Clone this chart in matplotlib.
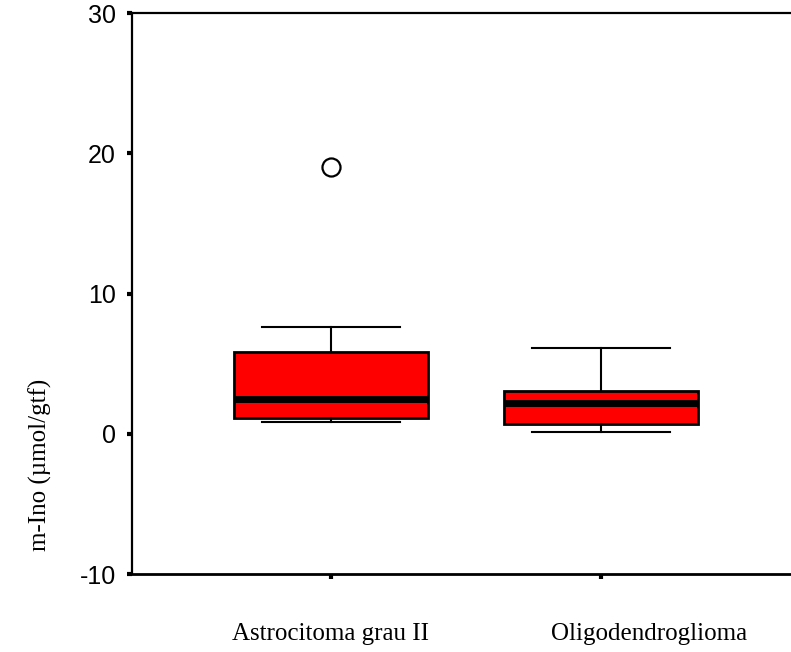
import matplotlib.pyplot as plt

# box summary per group (m-Ino, umol/gtf)
groups = ["Astrocitoma grau II", "Oligodendroglioma"]
whislo = [0.83, 0.12]
q1 = [1.09, 0.69]
med = [2.49, 2.23]
q3 = [5.86, 3.06]
whishi = [7.64, 6.15]
fliers = [[19.04], []]

yticks = [-10, 0, 10, 20, 30]

stats = []
for i, name in enumerate(groups):
    stats.append(dict(label=name, whislo=whislo[i], q1=q1[i], med=med[i],
                      q3=q3[i], whishi=whishi[i], fliers=fliers[i]))

fig = plt.figure(figsize=(7.91, 6.52), dpi=100)
ax = fig.add_axes([0.1669, 0.1196, 0.8331, 0.8604])

ax.bxp(stats, positions=[1, 2], widths=0.72, patch_artist=True,
       boxprops=dict(facecolor="#ff0000", edgecolor="black", linewidth=2),
       medianprops=dict(color="black", linewidth=5, solid_capstyle="butt"),
       whiskerprops=dict(color="black", linewidth=1.5),
       capprops=dict(color="black", linewidth=1.5),
       capwidths=0.51,
       flierprops=dict(marker="o", markersize=13, markerfacecolor="none",
                       markeredgecolor="black", markeredgewidth=1.6))

ax.set_xlim(0.263, 2.704)
ax.set_ylim(-10, 30)
ax.set_yticks(yticks)
ax.set_yticklabels([str(t) for t in yticks], fontsize=18, family="Liberation Sans")
ax.set_xticks([1, 2])
ax.set_xticklabels([])
ax.tick_params(axis="both", direction="out", length=3.5, width=3, pad=8)

ax.spines["right"].set_visible(False)
for s in ["left", "top"]:
    ax.spines[s].set_linewidth(1.6)
ax.spines["bottom"].set_linewidth(2)

# category names under the axis
tr = ax.get_xaxis_transform()
ax.text(1.0, -0.107, groups[0], transform=tr, ha="center", va="center",
        fontsize=18, family="Liberation Serif")
ax.text(2.18, -0.107, groups[1], transform=tr, ha="center", va="center",
        fontsize=18, family="Liberation Serif")

fig.text(40 / 791, 1 - 465 / 652, "m-Ino (\u00b5mol/gtf)", rotation=90,
         ha="center", va="center", fontsize=18, family="Liberation Serif")

fig.savefig("out.png", dpi=100)
